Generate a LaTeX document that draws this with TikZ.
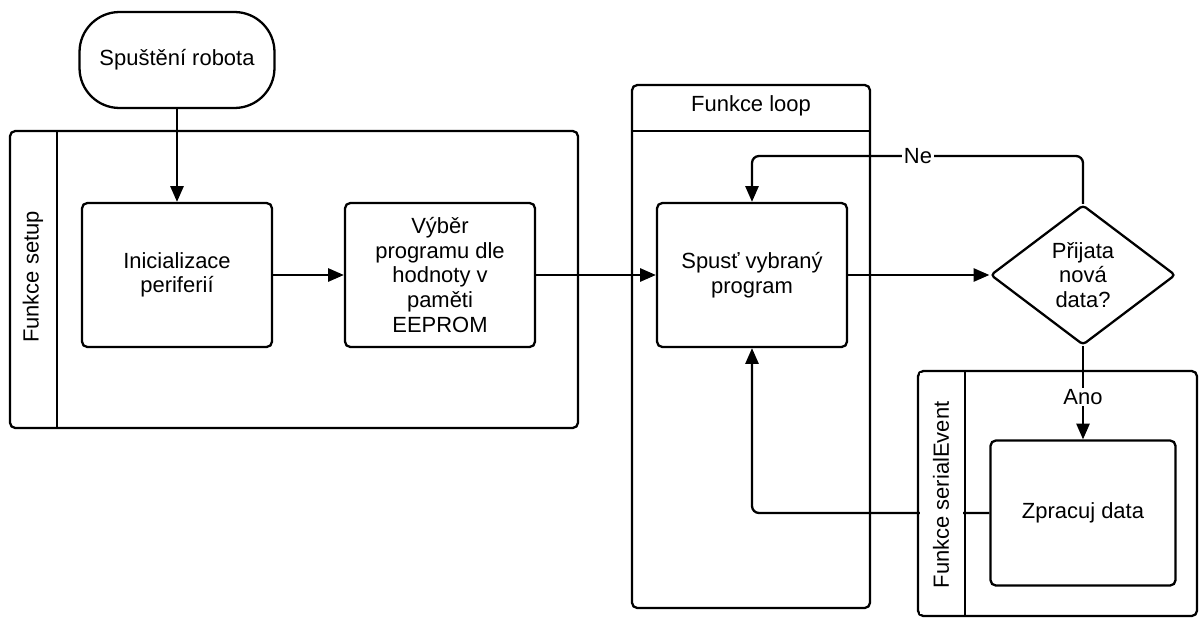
\documentclass[tikz,border=0pt]{standalone}
\usepackage{fontspec}
\setmainfont{Liberation Sans}
\usetikzlibrary{arrows.meta,shapes.geometric}

\tikzset{
  draha/.style={line width=1.3pt, rounded corners=3pt},
  krok/.style={draw, line width=1.3pt, rounded corners=3pt, align=center, minimum width=3.8cm, minimum height=2.88cm, inner sep=0pt},
  zacatek/.style={draw, line width=1.3pt, rounded corners=0.8cm, minimum width=3.9cm, minimum height=1.92cm},
  rozhod/.style={draw, diamond, line width=1.3pt, rounded corners=2pt, align=center, minimum width=3.7cm, minimum height=2.8cm, inner sep=0pt},
  sipka/.style={line width=1.3pt, rounded corners=4pt, -{Triangle[length=9pt,width=7.5pt]}},
  popis/.style={fill=white, inner sep=1pt}
}

\begin{document}
\begin{tikzpicture}[x=0.02cm, y=-0.02cm, font=\fontsize{12.5}{14}\selectfont]
\useasboundingbox (0,0) rectangle (1200,619);

% Swimlanes
\draw[draha] (10,131) rectangle (578,428);
\draw[line width=1.3pt] (57,131) -- (57,428);
\node[rotate=90] (setuplabel) at (33,277) {Funkce setup};

\draw[draha] (632,85) rectangle (870,608);
\draw[line width=1.3pt] (632,131) -- (870,131);
\node (looplabel) at (751,106) {Funkce loop};

\draw[draha] (918,371) rectangle (1197,616);

% Nodes
\node[zacatek] (start) at (177,60) {Spuštění robota};
\node[krok] (init) at (177,275) {Inicializace\\periferií};
\node[krok] (vyber) at (440,275) {Výběr\\programu dle\\hodnoty v\\paměti\\EEPROM};
\node[krok] (spust) at (752,275) {Spusť vybraný\\program};
\node[rozhod] (dotaz) at (1083,275) {Přijata\\nová\\data?};
\node[krok, minimum width=3.7cm, minimum height=2.9cm] (zprac) at (1083,513) {Zpracuj data};

% Connectors
\draw[sipka] (start) -- (init);
\draw[sipka] (init) -- (vyber);
\draw[sipka] (vyber) -- (spust);
\draw[sipka] (spust) -- (dotaz);

\coordinate (ne) at (918,156);
\draw[sipka] (dotaz.north) |- (ne) -| (spust.north);
\node[popis] (nelabel) at (ne) {Ne};

\coordinate (ano) at (1083,397);
\draw[sipka] (dotaz.south) -- (zprac.north);
\node[popis] (anolabel) at (ano) {Ano};

\draw[sipka] (zprac.west) -| (spust.south);

% serialEvent title band
\fill[white] (919.8,373) rectangle (963.2,614);
\draw[line width=1.3pt] (965,371) -- (965,616);
\node[rotate=90] (seriallabel) at (941,495) {Funkce serialEvent};

\end{tikzpicture}
\end{document}
